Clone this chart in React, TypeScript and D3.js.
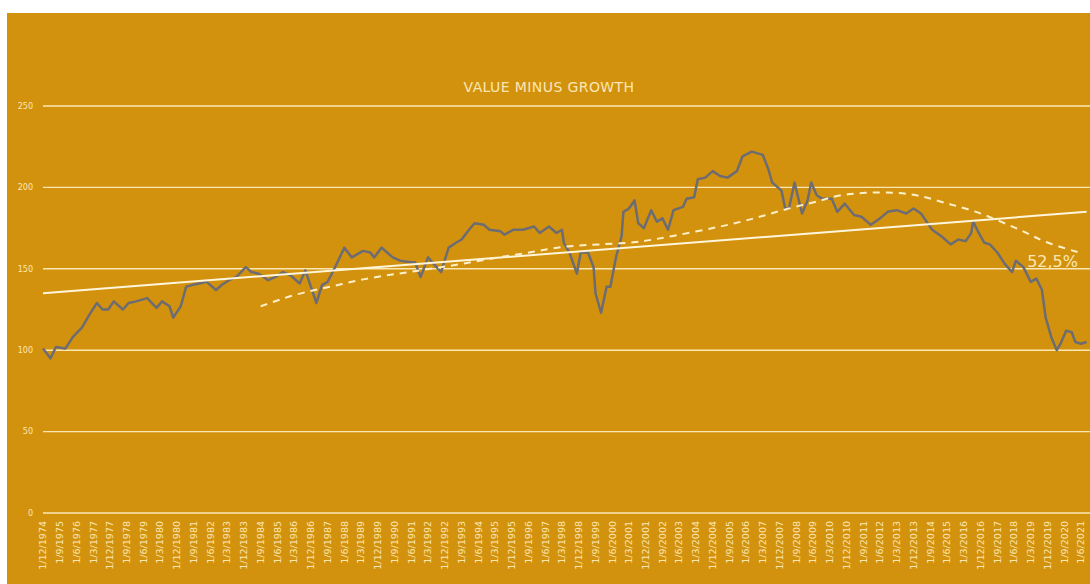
import * as d3 from "d3";

const W = 1090;
const H = 584;

// monthly index, value minus growth (rebased 100)
const seriesDates = [
  "1974-12", "1975-04", "1975-07", "1975-12", "1976-04", "1976-09", "1977-01", "1977-05", "1977-08", "1977-11",
  "1978-02", "1978-07", "1978-10", "1979-02", "1979-08", "1980-01", "1980-04", "1980-08", "1980-10", "1981-02",
  "1981-05", "1981-08", "1981-12", "1982-04", "1982-09", "1982-12", "1983-04", "1983-08", "1984-01", "1984-04",
  "1984-08", "1985-01", "1985-05", "1985-09", "1986-01", "1986-06", "1986-09", "1986-12", "1987-03", "1987-06",
  "1987-09", "1988-01", "1988-06", "1988-10", "1989-04", "1989-08", "1989-10", "1990-02", "1990-05", "1990-08",
  "1990-12", "1991-06", "1991-08", "1991-11", "1992-03", "1992-06", "1992-10", "1993-02", "1993-06", "1993-09",
  "1994-01", "1994-04", "1994-09", "1994-12", "1995-06", "1995-08", "1996-01", "1996-06", "1996-12", "1997-03",
  "1997-08", "1997-12", "1998-03", "1998-04", "1998-07", "1998-11", "1999-01", "1999-05", "1999-08", "1999-09",
  "1999-12", "2000-03", "2000-05", "2000-08", "2000-11", "2000-12", "2001-03", "2001-06", "2001-08", "2001-11",
  "2002-03", "2002-06", "2002-09", "2002-12", "2003-03", "2003-08", "2003-10", "2004-02", "2004-04", "2004-08",
  "2004-12", "2005-04", "2005-08", "2006-01", "2006-04", "2006-09", "2007-03", "2007-06", "2007-08", "2007-11",
  "2008-01", "2008-03", "2008-05", "2008-08", "2008-12", "2009-03", "2009-05", "2009-08", "2009-11", "2010-04",
  "2010-07", "2010-11", "2011-04", "2011-08", "2012-01", "2012-06", "2012-10", "2013-03", "2013-08", "2013-12",
  "2014-04", "2014-07", "2014-10", "2015-03", "2015-08", "2015-12", "2016-04", "2016-07", "2016-08", "2016-11",
  "2017-02", "2017-05", "2017-09", "2018-01", "2018-05", "2018-07", "2018-11", "2019-03", "2019-06", "2019-09",
  "2019-11", "2020-02", "2020-05", "2020-07", "2020-10", "2021-01", "2021-03", "2021-06", "2021-09",
];
const seriesValues = [
  101, 95, 102, 101, 108, 114, 122, 129, 125, 125,
  130, 125, 129, 130, 132, 126, 130, 127, 120, 127,
  139, 140, 141, 142, 137, 140, 143, 145, 151, 148,
  147, 143, 145, 148, 146, 141, 149, 139, 129, 140,
  142, 151, 163, 157, 161, 160, 157, 163, 160, 157,
  155, 154, 154, 145, 157, 153, 148, 163, 166, 168,
  174, 178, 177, 174, 173, 171, 174, 174, 176, 172,
  176, 172, 174, 166, 160, 147, 160, 160, 151, 135,
  123, 139, 139, 157, 170, 185, 187, 192, 178, 175,
  186, 179, 181, 174, 186, 188, 193, 194, 205, 206,
  210, 207, 206, 210, 219, 222, 220, 211, 203, 200,
  198, 187, 187, 203, 184, 192, 203, 195, 193, 193,
  185, 190, 183, 182, 177, 181, 185, 186, 184, 187,
  184, 179, 174, 170, 165, 168, 167, 172, 179, 172,
  166, 165, 160, 153, 148, 155, 151, 142, 144, 137,
  120, 108, 100, 104, 112, 111, 105, 104, 105,
];

// linear trend (end points)
const trendDates = ["1974-12", "2021-09"];
const trendValues = [135, 185];

// polynomial trend (dashed)
const polyDates = [
  "1984-09", "1986-05", "1987-11", "1989-05", "1990-11", "1992-04", "1993-10", "1995-04", "1996-10", "1998-04",
  "1999-11", "2001-07", "2003-02", "2005-05", "2006-11", "2008-04", "2009-11", "2010-06", "2011-10", "2013-03",
  "2014-04", "2015-06", "2016-08", "2017-11", "2019-01", "2019-11", "2021-05",
];
const polyValues = [
  127, 135, 139, 144, 147, 150, 153, 157, 160, 164,
  165, 166, 170, 176, 181, 187, 192, 195, 197, 197,
  195, 190, 186, 179, 172, 166, 160,
];

const yTicks = [0, 50, 100, 150, 200, 250];
const xTickLabels = [
  "1/12/1974", "1/9/1975", "1/6/1976", "1/3/1977", "1/12/1977", "1/9/1978", "1/6/1979", "1/3/1980", "1/12/1980",
  "1/9/1981", "1/6/1982", "1/3/1983", "1/12/1983", "1/9/1984", "1/6/1985", "1/3/1986", "1/12/1986", "1/9/1987",
  "1/6/1988", "1/3/1989", "1/12/1989", "1/9/1990", "1/6/1991", "1/3/1992", "1/12/1992", "1/9/1993", "1/6/1994",
  "1/3/1995", "1/12/1995", "1/9/1996", "1/6/1997", "1/3/1998", "1/12/1998", "1/9/1999", "1/6/2000", "1/3/2001",
  "1/12/2001", "1/9/2002", "1/6/2003", "1/3/2004", "1/12/2004", "1/9/2005", "1/6/2006", "1/3/2007", "1/12/2007",
  "1/9/2008", "1/6/2009", "1/3/2010", "1/12/2010", "1/9/2011", "1/6/2012", "1/3/2013", "1/12/2013", "1/9/2014",
  "1/6/2015", "1/3/2016", "1/12/2016", "1/9/2017", "1/6/2018", "1/3/2019", "1/12/2019", "1/9/2020", "1/6/2021",
];

const title = "VALUE MINUS GROWTH";
const endLabel = "52,5%";

const BG = "#d3920e";
const CREAM = "#fbe7b4";
const LINE = "#6c6c72";
const FONT = "'DejaVu Sans', sans-serif";

export default function App() {
  const parseMonth = d3.timeParse("%Y-%m");
  const parseTick = d3.timeParse("%d/%m/%Y");

  const x = d3
    .scaleTime()
    .domain([parseMonth("1974-12") as Date, parseMonth("2021-06") as Date])
    .range([43, 1081]);
  const y = d3.scaleLinear().domain([0, 250]).range([513, 106]);

  const toPts = (dates: string[], vals: number[]) =>
    dates.map((d, i) => ({ date: parseMonth(d) as Date, v: vals[i] }));

  const line = d3
    .line<{ date: Date; v: number }>()
    .x(d => x(d.date))
    .y(d => y(d.v));

  const smooth = d3
    .line<{ date: Date; v: number }>()
    .x(d => x(d.date))
    .y(d => y(d.v))
    .curve(d3.curveBasis);

  const series = toPts(seriesDates, seriesValues);
  const trend = toPts(trendDates, trendValues);
  const poly = toPts(polyDates, polyValues);

  return (
    <div style={{ position: "absolute", left: 0, top: 0 }}>
      <svg width={W} height={H} style={{ display: "block", background: "#fff" }}>
        <rect x={7} y={13} width={W - 7} height={H - 13} fill={BG} />

        <text
          x={549}
          y={92}
          textAnchor="middle"
          fill={CREAM}
          fontFamily={FONT}
          fontSize={14}
          letterSpacing={0.4}
        >
          {title}
        </text>

        {/* grid + y labels */}
        {yTicks.map(t => (
          <g key={t}>
            <line x1={43} x2={W} y1={y(t)} y2={y(t)} stroke={CREAM} strokeWidth={1.4} />
            <text
              x={33}
              y={y(t)}
              dy="0.35em"
              textAnchor="end"
              fill={CREAM}
              fontFamily={FONT}
              fontSize={8}
            >
              {t}
            </text>
          </g>
        ))}

        {/* x labels */}
        {xTickLabels.map(l => {
          const px = x(parseTick(l) as Date);
          return (
            <text
              key={l}
              transform={`translate(${px},521) rotate(-90)`}
              dy="0.35em"
              textAnchor="end"
              fill={CREAM}
              fontFamily={FONT}
              fontSize={9.5}
            >
              {l}
            </text>
          );
        })}

        <path d={line(series) ?? ""} fill="none" stroke={LINE} strokeWidth={2.5} strokeLinejoin="round" />
        <path d={line(trend) ?? ""} fill="none" stroke="#fff6dc" strokeWidth={2} />
        <path
          d={smooth(poly) ?? ""}
          fill="none"
          stroke="#fff0cc"
          strokeWidth={2}
          strokeDasharray="7,6"
        />

        <text x={1078} y={267} textAnchor="end" fill={CREAM} fontFamily={FONT} fontSize={16}>
          {endLabel}
        </text>
      </svg>
    </div>
  );
}
